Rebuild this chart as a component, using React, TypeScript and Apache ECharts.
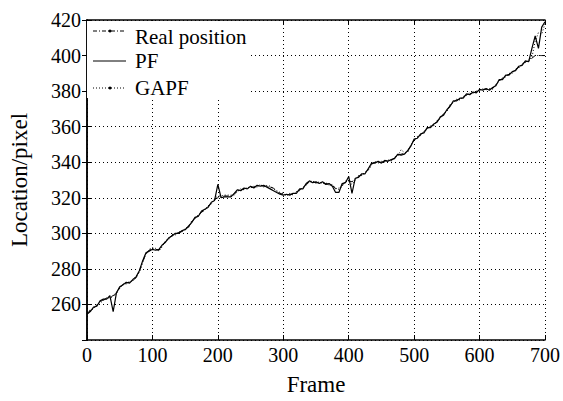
import React, { useEffect, useRef } from "react";
import * as echarts from "echarts";

// Sampled every 5 frames, 0..700
const realPosition = [
  255, 256.5, 258, 259.5, 261.5, 262.5, 263.5, 264, 265, 266,
  269.5, 271.5, 272, 272.5, 273.5, 275, 278.5, 284, 288.5, 290.5,
  291.5, 291, 290.5, 293, 295.5, 297, 299, 299.5, 300.5, 301,
  302.5, 303.5, 306.5, 308.5, 310, 312, 313, 315, 317, 319,
  320, 320.5, 321, 321, 321, 322, 324, 324.5, 325, 325.5,
  326, 326, 326.5, 327, 326.5, 326.5, 326, 325.5, 323.5, 322.5,
  322, 321.5, 322, 322, 323, 324.5, 325.5, 327.5, 329, 329,
  328.5, 328.5, 328.5, 328, 327.5, 327, 325, 325.5, 327, 329,
  329.5, 329, 330.5, 332, 333, 334, 336, 339, 340, 340,
  340, 340.5, 341, 341, 342.5, 344, 344.5, 345, 346, 349.5,
  352.5, 354, 355.5, 357, 359, 360, 361, 363, 365, 367,
  369, 372, 374, 375, 375.5, 376.5, 378, 378.5, 379, 379.5,
  380.5, 381, 381, 381, 381.5, 383.5, 386, 387, 388.5, 389.5,
  390.5, 392, 393.5, 395, 396.5, 397, 398.5, 400, 400, 400,
  400,
];

const pf = [
  254.5, 256, 258.5, 259, 262, 263, 263, 265, 256, 266.5,
  270, 271, 272.5, 272, 274, 275.5, 279, 284.5, 289, 290,
  291, 290.5, 291, 293.5, 295, 297.5, 298.5, 300, 300, 301.5,
  302, 304, 306, 309, 309.5, 312.5, 313.5, 314.5, 317.5, 318.5,
  327.5, 320, 320.5, 320.5, 320.5, 322.5, 324.5, 324, 325.5, 325,
  326.5, 325.5, 327, 326.5, 327, 326, 325, 324, 323, 322,
  321.5, 322, 321.5, 322.5, 322.5, 325, 325, 328, 329.5, 328.5,
  329, 328, 329, 327.5, 328, 326.5, 323, 323, 328, 328.5,
  332, 322.5, 331, 331.5, 333.5, 333.5, 336.5, 339.5, 339.5, 340.5,
  339.5, 341, 340.5, 341.5, 342, 344.5, 344, 344.5, 346.5, 349,
  353, 353.5, 356, 356.5, 359.5, 359.5, 361.5, 362.5, 365.5, 366.5,
  369.5, 371.5, 374.5, 374.5, 376, 376, 378.5, 378, 379.5, 379,
  381, 380.5, 381.5, 380.5, 382, 383, 386.5, 386.5, 389, 389,
  391, 391.5, 394, 394.5, 397, 396.5, 404, 411, 404, 416,
  419,
];

const gapf = [
  255.5, 257, 257.5, 260, 261, 262, 264, 263.5, 264.5, 267,
  269, 271.5, 271.5, 273, 273, 276, 278, 283.5, 288, 291,
  292, 291.5, 290, 292.5, 296, 296.5, 299.5, 299, 301, 300.5,
  303, 303, 307, 308, 310.5, 311.5, 313.5, 315.5, 316.5, 319.5,
  321, 321, 321.5, 321.5, 321.5, 321.5, 323.5, 325, 324.5, 326,
  325.5, 326.5, 326, 327.5, 326, 327, 326.5, 325, 324, 323,
  322.5, 321, 322.5, 321.5, 323.5, 324, 326, 327, 329, 329.5,
  328, 329, 328, 328.5, 327, 327.5, 325.5, 324.5, 326.5, 329.5,
  329, 327.5, 330, 332.5, 332.5, 334.5, 335.5, 338.5, 340.5, 339.5,
  340.5, 340, 341.5, 340.5, 343, 343.5, 347, 345.5, 345.5, 350,
  352, 354.5, 355, 357.5, 358.5, 360.5, 360.5, 363.5, 364.5, 367.5,
  368.5, 372.5, 373.5, 375.5, 375, 377, 377.5, 379, 378.5, 380,
  380, 381.5, 380.5, 381.5, 381, 384, 385.5, 387.5, 388, 390,
  390, 392.5, 393, 395.5, 396, 397.5, 399, 408, 413, 412,
  418,
];

const xTicks = [0, 100, 200, 300, 400, 500, 600, 700];
const yTicks = [240, 260, 280, 300, 320, 340, 360, 380, 400, 420];

const frameStep = 5;
const legendNames = ["Real position", "PF", "GAPF"];

const FONT = "'Liberation Serif', 'Times New Roman', serif";

export default function App() {
  const ref = useRef<HTMLDivElement>(null);
  useEffect(() => {
    document.body.style.margin = "0";
    if (!ref.current) return;
    const chart = echarts.init(ref.current, null, { renderer: "svg" });
    const toPairs = (arr: number[]) => arr.map((v, i) => [i * frameStep, v]);
    const gridDot = { color: "#000", width: 1, type: [1, 3] as number[] };
    const legendX1 = 93;
    const legendX2 = 126;
    const rows = [31, 61, 88];
    const textRows = [37, 61, 88];
    chart.setOption({
      animation: false,
      backgroundColor: "#fff",
      grid: { left: 86, right: 17, top: 20, bottom: 59, containLabel: false },
      xAxis: [
        {
          type: "value",
          min: xTicks[0],
          max: xTicks[xTicks.length - 1],
          interval: 100,
          position: "bottom",
          name: "Frame",
          nameLocation: "middle",
          nameGap: 33,
          nameTextStyle: { fontFamily: FONT, fontSize: 23, color: "#000" },
          axisLine: { lineStyle: { color: "#000", width: 1.5 } },
          axisTick: { inside: true, length: 5, lineStyle: { color: "#000" } },
          axisLabel: { fontFamily: FONT, fontSize: 20, color: "#000", margin: 5 },
          splitLine: { show: true, lineStyle: gridDot },
        },
        {
          type: "value",
          min: xTicks[0],
          max: xTicks[xTicks.length - 1],
          interval: 100,
          position: "top",
          axisLine: { lineStyle: { color: "#000", width: 1.5 } },
          axisTick: { inside: true, length: 5, lineStyle: { color: "#000" } },
          axisLabel: { show: false },
          splitLine: { show: false },
        },
      ],
      yAxis: [
        {
          type: "value",
          min: yTicks[0],
          max: yTicks[yTicks.length - 1],
          interval: 20,
          position: "left",
          name: "Location/pixel",
          nameLocation: "middle",
          nameGap: 56,
          nameRotate: 90,
          nameTextStyle: { fontFamily: FONT, fontSize: 23, color: "#000" },
          axisLine: { show: true, lineStyle: { color: "#000", width: 1.5 } },
          axisTick: { show: true, inside: true, length: 5, lineStyle: { color: "#000" } },
          axisLabel: { fontFamily: FONT, fontSize: 20, color: "#000", margin: 6, showMinLabel: false },
          splitLine: { show: true, lineStyle: gridDot },
        },
        {
          type: "value",
          min: yTicks[0],
          max: yTicks[yTicks.length - 1],
          interval: 20,
          position: "right",
          axisLine: { show: true, lineStyle: { color: "#000", width: 1.5 } },
          axisTick: { show: true, inside: true, length: 5, lineStyle: { color: "#000" } },
          axisLabel: { show: false },
          splitLine: { show: false },
        },
      ],
      series: [
        {
          name: legendNames[1],
          type: "line",
          data: toPairs(pf),
          showSymbol: false,
          lineStyle: { color: "#000", width: 1.2, type: "solid" },
          z: 2,
        },
        {
          name: legendNames[2],
          type: "line",
          data: toPairs(gapf),
          showSymbol: false,
          lineStyle: { color: "#000", width: 1, type: [1, 2] },
          z: 3,
        },
        {
          name: legendNames[0],
          type: "line",
          data: toPairs(realPosition),
          showSymbol: false,
          lineStyle: { color: "#000", width: 1, type: [5, 2, 1, 2] },
          z: 4,
        },
      ],
      graphic: [
        {
          type: "rect",
          z: 100,
          shape: { x: 87, y: 21, width: 162, height: 77 },
          style: { fill: "#fff", stroke: null },
        },
        {
          type: "line",
          z: 101,
          shape: { x1: legendX1, y1: rows[0], x2: legendX2, y2: rows[0] },
          style: { stroke: "#000", lineWidth: 1, lineDash: [4, 2, 1, 2] },
        },
        {
          type: "circle",
          z: 101,
          shape: { cx: 110, cy: rows[0], r: 1.5 },
          style: { fill: "#000" },
        },
        {
          type: "line",
          z: 101,
          shape: { x1: legendX1, y1: rows[1], x2: legendX2, y2: rows[1] },
          style: { stroke: "#000", lineWidth: 1 },
        },
        {
          type: "line",
          z: 101,
          shape: { x1: legendX1, y1: rows[2], x2: legendX2, y2: rows[2] },
          style: { stroke: "#000", lineWidth: 1, lineDash: [1, 2] },
        },
        {
          type: "circle",
          z: 101,
          shape: { cx: 110, cy: rows[2], r: 1.5 },
          style: { fill: "#000" },
        },
        ...legendNames.map((name, i) => ({
          type: "text",
          z: 101,
          x: 135,
          y: textRows[i],
          style: {
            text: name,
            fontFamily: FONT,
            fontSize: 21,
            fill: "#000",
            verticalAlign: "middle",
            align: "left",
          },
        })),
      ],
    });
    return () => chart.dispose();
  }, []);
  return <div ref={ref} style={{ width: 563, height: 401 }} />;
}
